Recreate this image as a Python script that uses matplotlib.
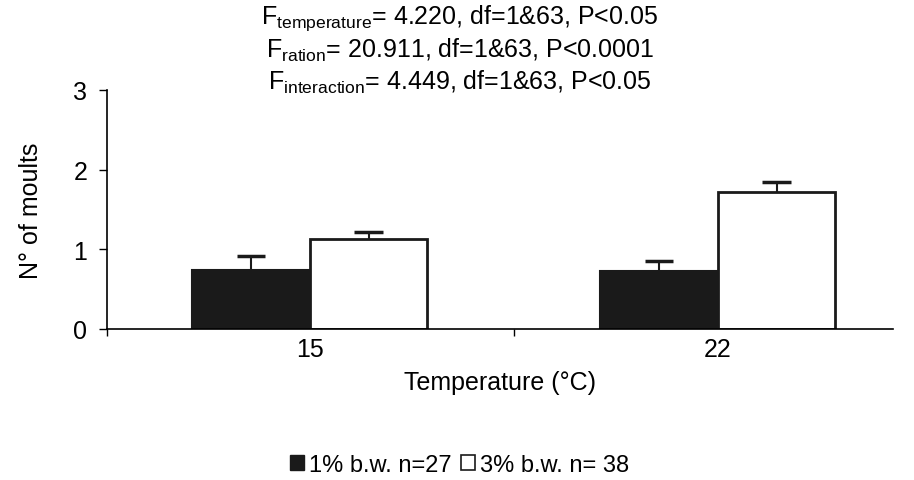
import numpy as np
import matplotlib
matplotlib.use("Agg")
import matplotlib.pyplot as plt
from matplotlib.patches import Patch

plt.rcParams['font.family'] = ['Liberation Sans', 'DejaVu Sans']
plt.rcParams['mathtext.fontset'] = 'custom'
plt.rcParams['mathtext.rm'] = 'Liberation Sans'
plt.rcParams['mathtext.it'] = 'Liberation Sans'

temps = ["15", "22"]
low_ration = [0.74, 0.73]
low_err = [0.18, 0.12]
high_ration = [1.13, 1.72]
high_err = [0.09, 0.12]
stats_lines = [
    r"F$_{\mathrm{temperature}}$= 4.220, df=1&63, P<0.05",
    r"F$_{\mathrm{ration}}$= 20.911, df=1&63, P<0.0001",
    r"F$_{\mathrm{interaction}}$= 4.449, df=1&63, P<0.05",
]
legend_labels = ["1% b.w. n=27", "3% b.w. n= 38"]

fs = 18
dark = '#1a1a1a'

fig = plt.figure(figsize=(9.14, 4.81), dpi=100)
ax = fig.add_axes([0.117, 0.314, 0.86, 0.497])

x = np.arange(len(temps))
w = 0.288
cw = 0.035
ax.bar(x - w / 2, low_ration, w, color=dark, edgecolor=dark, lw=1.5, zorder=2)
ax.bar(x + w / 2, high_ration, w, color='white', edgecolor=dark, lw=2, zorder=2)

# upper error bars only
for xs, vals, errs in [(x - w / 2, low_ration, low_err), (x + w / 2, high_ration, high_err)]:
    tops = np.array(vals) + np.array(errs)
    ax.vlines(xs, vals, tops, color=dark, lw=1.5, zorder=3)
    ax.hlines(tops, xs - cw, xs + cw, color=dark, lw=2.5, zorder=3)

ax.set_xlim(-0.4975, 1.429)
ax.set_ylim(0, 3)
ax.set_yticks([0, 1, 2, 3])
ax.set_xticks(x)
ax.set_xticklabels(temps)
ax.set_xticks([-0.4975, 0.5], minor=True)
ax.tick_params(axis='x', which='major', length=0, pad=6, labelsize=fs)
ax.tick_params(axis='x', which='minor', length=5, width=1, direction='out')
ax.tick_params(axis='y', length=6, width=1, direction='out', labelsize=fs, pad=8)
for s in ['top', 'right']:
    ax.spines[s].set_visible(False)
ax.spines['left'].set_linewidth(1.2)
ax.spines['bottom'].set_linewidth(1.2)
ax.set_ylabel("N° of moults", fontsize=fs, labelpad=22)
ax.set_xlabel("Temperature (°C)", fontsize=fs, labelpad=6)

for i, line in enumerate(stats_lines):
    fig.text(0.503, 0.962 - i * 0.067, line, ha='center', va='center', fontsize=fs)

handles = [Patch(facecolor=dark, edgecolor=dark),
           Patch(facecolor='white', edgecolor=dark, lw=1.2)]
fig.legend(handles, legend_labels, loc='center', bbox_to_anchor=(0.503, 0.032), ncol=2,
           frameon=False, fontsize=17, handlelength=0.6, handleheight=0.6,
           handletextpad=0.2, columnspacing=0.4)

fig.savefig("out.png", dpi=100)
